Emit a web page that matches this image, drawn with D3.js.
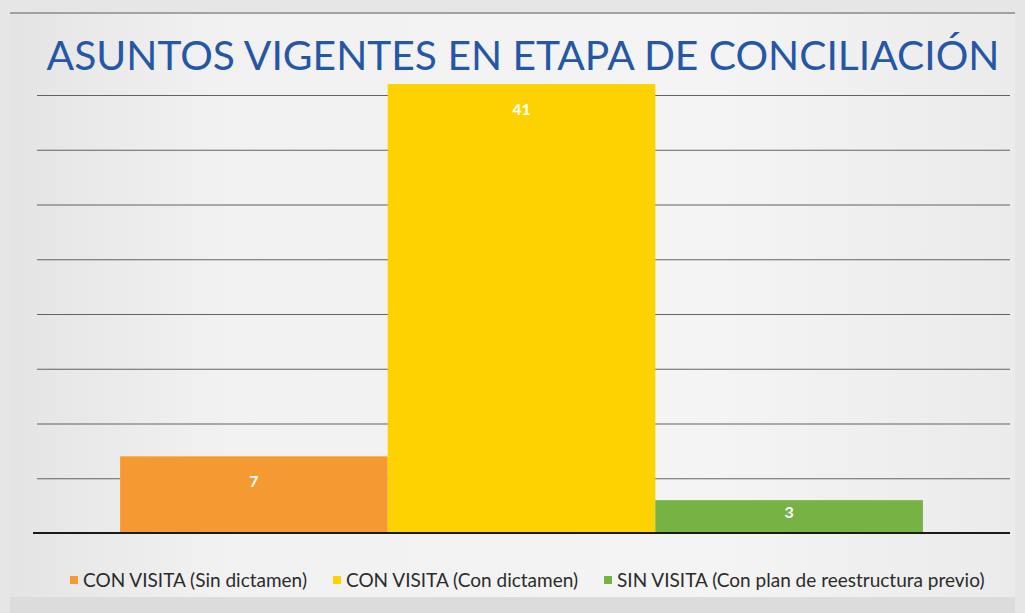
<!DOCTYPE html>
<html><head><meta charset="utf-8">
<script src="https://cdn.jsdelivr.net/npm/d3@7"></script>
<style>html,body{margin:0;padding:0;background:#e9e9e9;}svg{display:block;}</style>
</head><body>
<svg id="chart" width="1025" height="613"></svg>
<script>
const title = "ASUNTOS VIGENTES EN ETAPA DE CONCILIACIÓN";
const series = ["CON VISITA (Sin dictamen)", "CON VISITA (Con dictamen)", "SIN VISITA (Con plan de reestructura previo)"];
const values = [7, 41, 3];
const colors = ["#f59a32", "#fed200", "#76b244"];
const yTicks = [5, 10, 15, 20, 25, 30, 35, 40];

const svg = d3.select("#chart");
const W = 1025, H = 613;

// paper background
const defs = svg.append("defs");
const g1 = defs.append("linearGradient").attr("id","bg").attr("x1",0).attr("y1",0).attr("x2",1).attr("y2",0);
g1.append("stop").attr("offset","0%").attr("stop-color","#e4e4e4");
g1.append("stop").attr("offset","20%").attr("stop-color","#f1f1f1");
g1.append("stop").attr("offset","70%").attr("stop-color","#f4f4f4");
g1.append("stop").attr("offset","100%").attr("stop-color","#ebebeb");
svg.append("rect").attr("width",W).attr("height",H).attr("fill","#e6e6e6");
svg.append("rect").attr("x",10).attr("y",13).attr("width",1005).attr("height",588).attr("fill","url(#bg)");
svg.append("line").attr("x1",10).attr("x2",1015).attr("y1",13).attr("y2",13).attr("stroke","#8a8a8a").attr("stroke-width",1.5);
svg.append("rect").attr("x",10).attr("y",597).attr("width",1005).attr("height",16).attr("fill","#dcdcdc");

// scales
const plotL = 37, plotR = 1010, baseY = 533;
const y = d3.scaleLinear().domain([0, 45]).range([baseY, baseY - 45 * 54.75 / 5]);
const x0 = d3.scaleBand().domain(["g"]).range([plotL - 2, plotR - 2]).paddingInner(0).paddingOuter(0.106);
const x1 = d3.scaleBand().domain(series).range([0, x0.bandwidth()]).padding(0);

// gridlines
svg.append("g")
  .attr("transform", `translate(${plotL},0)`)
  .call(d3.axisLeft(y).tickValues(yTicks).tickSize(-(plotR - plotL)).tickFormat(""))
  .call(g => g.select(".domain").remove())
  .call(g => g.selectAll(".tick line").attr("stroke", "#4a4a4a").attr("stroke-width", 1.2).attr("opacity", 0.85));

// bars
const bars = svg.append("g").attr("transform", `translate(${x0("g")},0)`);
bars.selectAll("rect").data(values).join("rect")
  .attr("x", (d, i) => x1(series[i]))
  .attr("width", x1.bandwidth())
  .attr("y", d => y(d))
  .attr("height", d => y(0) - y(d))
  .attr("fill", (d, i) => colors[i]);

bars.selectAll("text").data(values).join("text")
  .attr("x", (d, i) => x1(series[i]) + x1.bandwidth() / 2)
  .attr("y", d => y(d) + Math.min(25, (y(0) - y(d)) * 0.37))
  .attr("dy", "0.35em")
  .attr("text-anchor", "middle")
  .attr("fill", "#ffffff")
  .attr("font-family", "Lato, 'Open Sans', sans-serif")
  .attr("font-weight", "bold")
  .attr("font-size", 16)
  .text(d => d);

// baseline axis
svg.append("g").attr("transform", `translate(0,${baseY})`)
  .call(d3.axisBottom(x0).tickSize(0).tickFormat(""))
  .call(g => g.select(".domain").attr("stroke", "#1a1a1a").attr("stroke-width", 2.2)
    .attr("d", `M${plotL - 4},0H${plotR}`));

// title
const t = svg.append("text").attr("x", 523).attr("y", 70).attr("text-anchor", "middle")
  .attr("fill", "#2557a6").attr("font-family", "Lato, 'Open Sans', sans-serif")
  .attr("font-size", 48).text(title);
const tw = t.node().getComputedTextLength();
t.attr("font-size", 48 * 953 / tw);

// legend
const leg = svg.append("g");
const items = leg.selectAll("g").data(series).join("g");
items.append("rect").attr("width", 8).attr("height", 8).attr("fill", (d, i) => colors[i]);
items.append("text").attr("x", 13).attr("y", 4).attr("dy", "0.35em")
  .attr("font-family", "Lato, 'Open Sans', sans-serif").attr("font-size", 17)
  .attr("fill", "#2b2b2b").text(d => d);
const targetW = 985 - 70;
let widths = [];
items.each(function(){ widths.push(d3.select(this).select("text").node().getComputedTextLength()); });
const gap = 13 + 13;
const fs = 17 * (targetW - 13 * 3 - gap * 2) / d3.sum(widths);
items.select("text").attr("font-size", fs);
widths = [];
items.each(function(){ widths.push(d3.select(this).select("text").node().getComputedTextLength()); });
let cx = 70;
items.each(function(d, i){
  d3.select(this).attr("transform", `translate(${cx},${576})`);
  cx += 13 + widths[i] + gap;
});
</script>
</body></html>
